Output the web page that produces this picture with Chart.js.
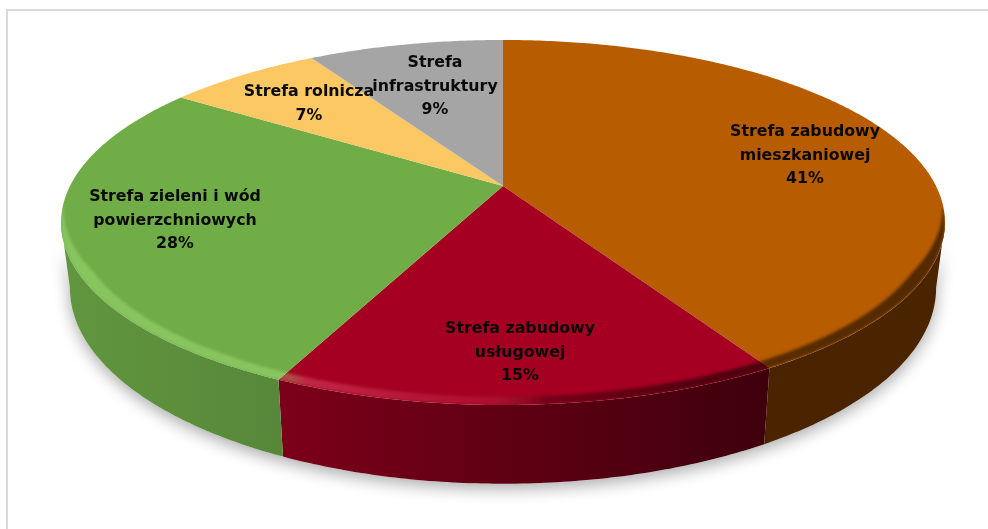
<!DOCTYPE html>
<html lang="pl">
<head>
<meta charset="utf-8">
<title>Strefy</title>
<script src="https://cdn.jsdelivr.net/npm/chart.js@4/dist/chart.umd.min.js"></script>
<style>
  html, body { margin: 0; padding: 0; background: #ffffff; overflow: hidden; }
  #frame { position: absolute; left: 6px; top: 9px; width: 1000px; height: 560px; border: 2px solid #d9d9d9; }
  #pie { position: absolute; left: 0; top: 0; }
</style>
</head>
<body>
<div id="frame"></div>
<canvas id="pie" width="988" height="529"></canvas>
<script>
// Values; the printed percentages are these, rounded.
const categories = [
  ["Strefa zabudowy", "mieszkaniowej"],
  ["Strefa zabudowy", "usługowej"],
  ["Strefa zieleni i wód", "powierzchniowych"],
  ["Strefa rolnicza"],
  ["Strefa", "infrastruktury"],
];
const shares = [41.49, 15.49, 27.5, 6.85, 8.67];
const topColors = ["#b85c00", "#a50021", "#70ad47", "#fbc864", "#a5a5a5"];
const wallColors = [
  ["#4a2300", "#4a2300"],
  ["#7c0019", "#3e000c"],
  ["#62963e", "#578739"],
  ["#a8853f", "#a8853f"],
  ["#6e6e6e", "#6e6e6e"],
];
// Label centres, in page pixels (first line baseline middle).
const labelCentres = [
  [805, 132],
  [520, 329],
  [175, 197],
  [309, 92],
  [435, 63],
];

// Tilted-disc projection: the apex sits above the ellipse centre, like Excel's 3D pie.
const CX = 503;
const CY = 186;
const RX = 433;
const RY = 175.2;
const TILT = 0.2;
const DEPTH = 63;
const BASE_SHRINK = 0.98;
const LEFT_EDGE = Math.PI - Math.asin(TILT);
const RIGHT_EDGE = Math.asin(TILT);

function project(angle, radius = 1, drop = 0) {
  const w = 1 - TILT * radius * Math.sin(angle);
  const x = (RX * radius * Math.cos(angle)) / w;
  const y = (RY * radius * Math.sin(angle)) / w + drop / w;
  const shrink = drop ? BASE_SHRINK : 1;
  return [CX + x * shrink, CY + y];
}

function arcPoints(from, to, radius, drop) {
  const steps = Math.max(2, Math.ceil(Math.abs(to - from) * 90));
  const points = [];
  for (let i = 0; i <= steps; i++) {
    points.push(project(from + ((to - from) * i) / steps, radius, drop));
  }
  return points;
}

function tracePolygon(ctx, points) {
  ctx.beginPath();
  points.forEach(([x, y], i) => (i ? ctx.lineTo(x, y) : ctx.moveTo(x, y)));
  ctx.closePath();
}

function drawShadow(ctx) {
  ctx.save();
  ctx.shadowColor = "rgba(0,0,0,0.33)";
  ctx.shadowBlur = 16;
  ctx.shadowOffsetY = 5;
  ctx.fillStyle = "#ffffff";
  tracePolygon(ctx, [
    ...arcPoints(RIGHT_EDGE, LEFT_EDGE, 1, DEPTH),
    ...arcPoints(LEFT_EDGE, RIGHT_EDGE, 1, 0),
  ]);
  ctx.fill();
  ctx.restore();
}

function drawWall(ctx, arc, index) {
  const from = Math.max(arc.startAngle, RIGHT_EDGE);
  const to = Math.min(arc.endAngle, LEFT_EDGE);
  if (to <= from) {
    return;
  }
  const top = arcPoints(from, to, 1, 0);
  const bottom = arcPoints(to, from, 1, DEPTH);
  const [leftColor, rightColor] = wallColors[index];
  const xs = [...top, ...bottom].map((p) => p[0]);
  const gradient = ctx.createLinearGradient(Math.min(...xs), 0, Math.max(...xs), 0);
  gradient.addColorStop(0, leftColor);
  gradient.addColorStop(1, rightColor);
  ctx.fillStyle = gradient;
  tracePolygon(ctx, [...top, ...bottom]);
  ctx.fill();
}

function drawTop(ctx, arc) {
  ctx.fillStyle = arc.options.backgroundColor;
  tracePolygon(ctx, [[CX, CY], ...arcPoints(arc.startAngle, arc.endAngle, 1, 0)]);
  ctx.fill();
}

// Rim bevel: light on the lit side, dark on the right, fading out towards the back.
function drawBevel(ctx) {
  const from = 0.1;
  const to = Math.PI - 0.1;
  const steps = 240;
  const outer = [];
  const inner = [];
  for (let i = 0; i <= steps; i++) {
    const angle = from + ((to - from) * i) / steps;
    const fade = Math.min(1, Math.sin(((angle - from) / (to - from)) * Math.PI) * 2.5);
    outer.push(project(angle, 1));
    inner.push(project(angle, 1 - 0.03 * fade));
  }
  const gradient = ctx.createLinearGradient(61, 0, 945, 0);
  gradient.addColorStop(0, "rgba(190,255,150,0.3)");
  gradient.addColorStop(0.26, "rgba(190,255,150,0.3)");
  gradient.addColorStop(0.28, "rgba(255,120,160,0.3)");
  gradient.addColorStop(0.47, "rgba(255,120,160,0.12)");
  gradient.addColorStop(0.55, "rgba(0,0,0,0.3)");
  gradient.addColorStop(0.72, "rgba(0,0,0,0.5)");
  gradient.addColorStop(1, "rgba(0,0,0,0.55)");
  ctx.save();
  tracePolygon(ctx, arcPoints(-Math.PI, Math.PI, 1, 0));
  ctx.clip();
  ctx.filter = "blur(1.5px)";
  ctx.fillStyle = gradient;
  tracePolygon(ctx, [...outer, ...inner.reverse()]);
  ctx.fill();
  ctx.restore();
}

function drawLabels(ctx, labels) {
  ctx.save();
  ctx.font = 'bold 15.8px "DejaVu Sans", sans-serif';
  ctx.fillStyle = "#0a0a0a";
  ctx.textAlign = "center";
  ctx.textBaseline = "middle";
  labels.forEach((lines, index) => {
    const [x, y] = labelCentres[index];
    const text = [...lines, `${Math.round(shares[index])}%`];
    text.forEach((line, row) => ctx.fillText(line, x, y + row * 23.5));
  });
  ctx.restore();
}

const pie3d = {
  id: "pie3d",
  beforeDatasetDraw(chart) {
    const ctx = chart.ctx;
    const arcs = chart.getDatasetMeta(0).data;
    drawShadow(ctx);
    arcs.forEach((arc, index) => drawWall(ctx, arc, index));
    arcs.forEach((arc) => drawTop(ctx, arc));
    drawBevel(ctx);
    return false;
  },
  afterDatasetsDraw(chart) {
    drawLabels(chart.ctx, chart.data.labels);
  },
};

new Chart(document.getElementById("pie"), {
  type: "pie",
  data: {
    labels: categories,
    datasets: [{ data: shares, backgroundColor: topColors, borderWidth: 0 }],
  },
  options: {
    responsive: false,
    animation: false,
    events: [],
    plugins: {
      legend: { display: false },
      tooltip: { enabled: false },
    },
  },
  plugins: [pie3d],
});
</script>
</body>
</html>
